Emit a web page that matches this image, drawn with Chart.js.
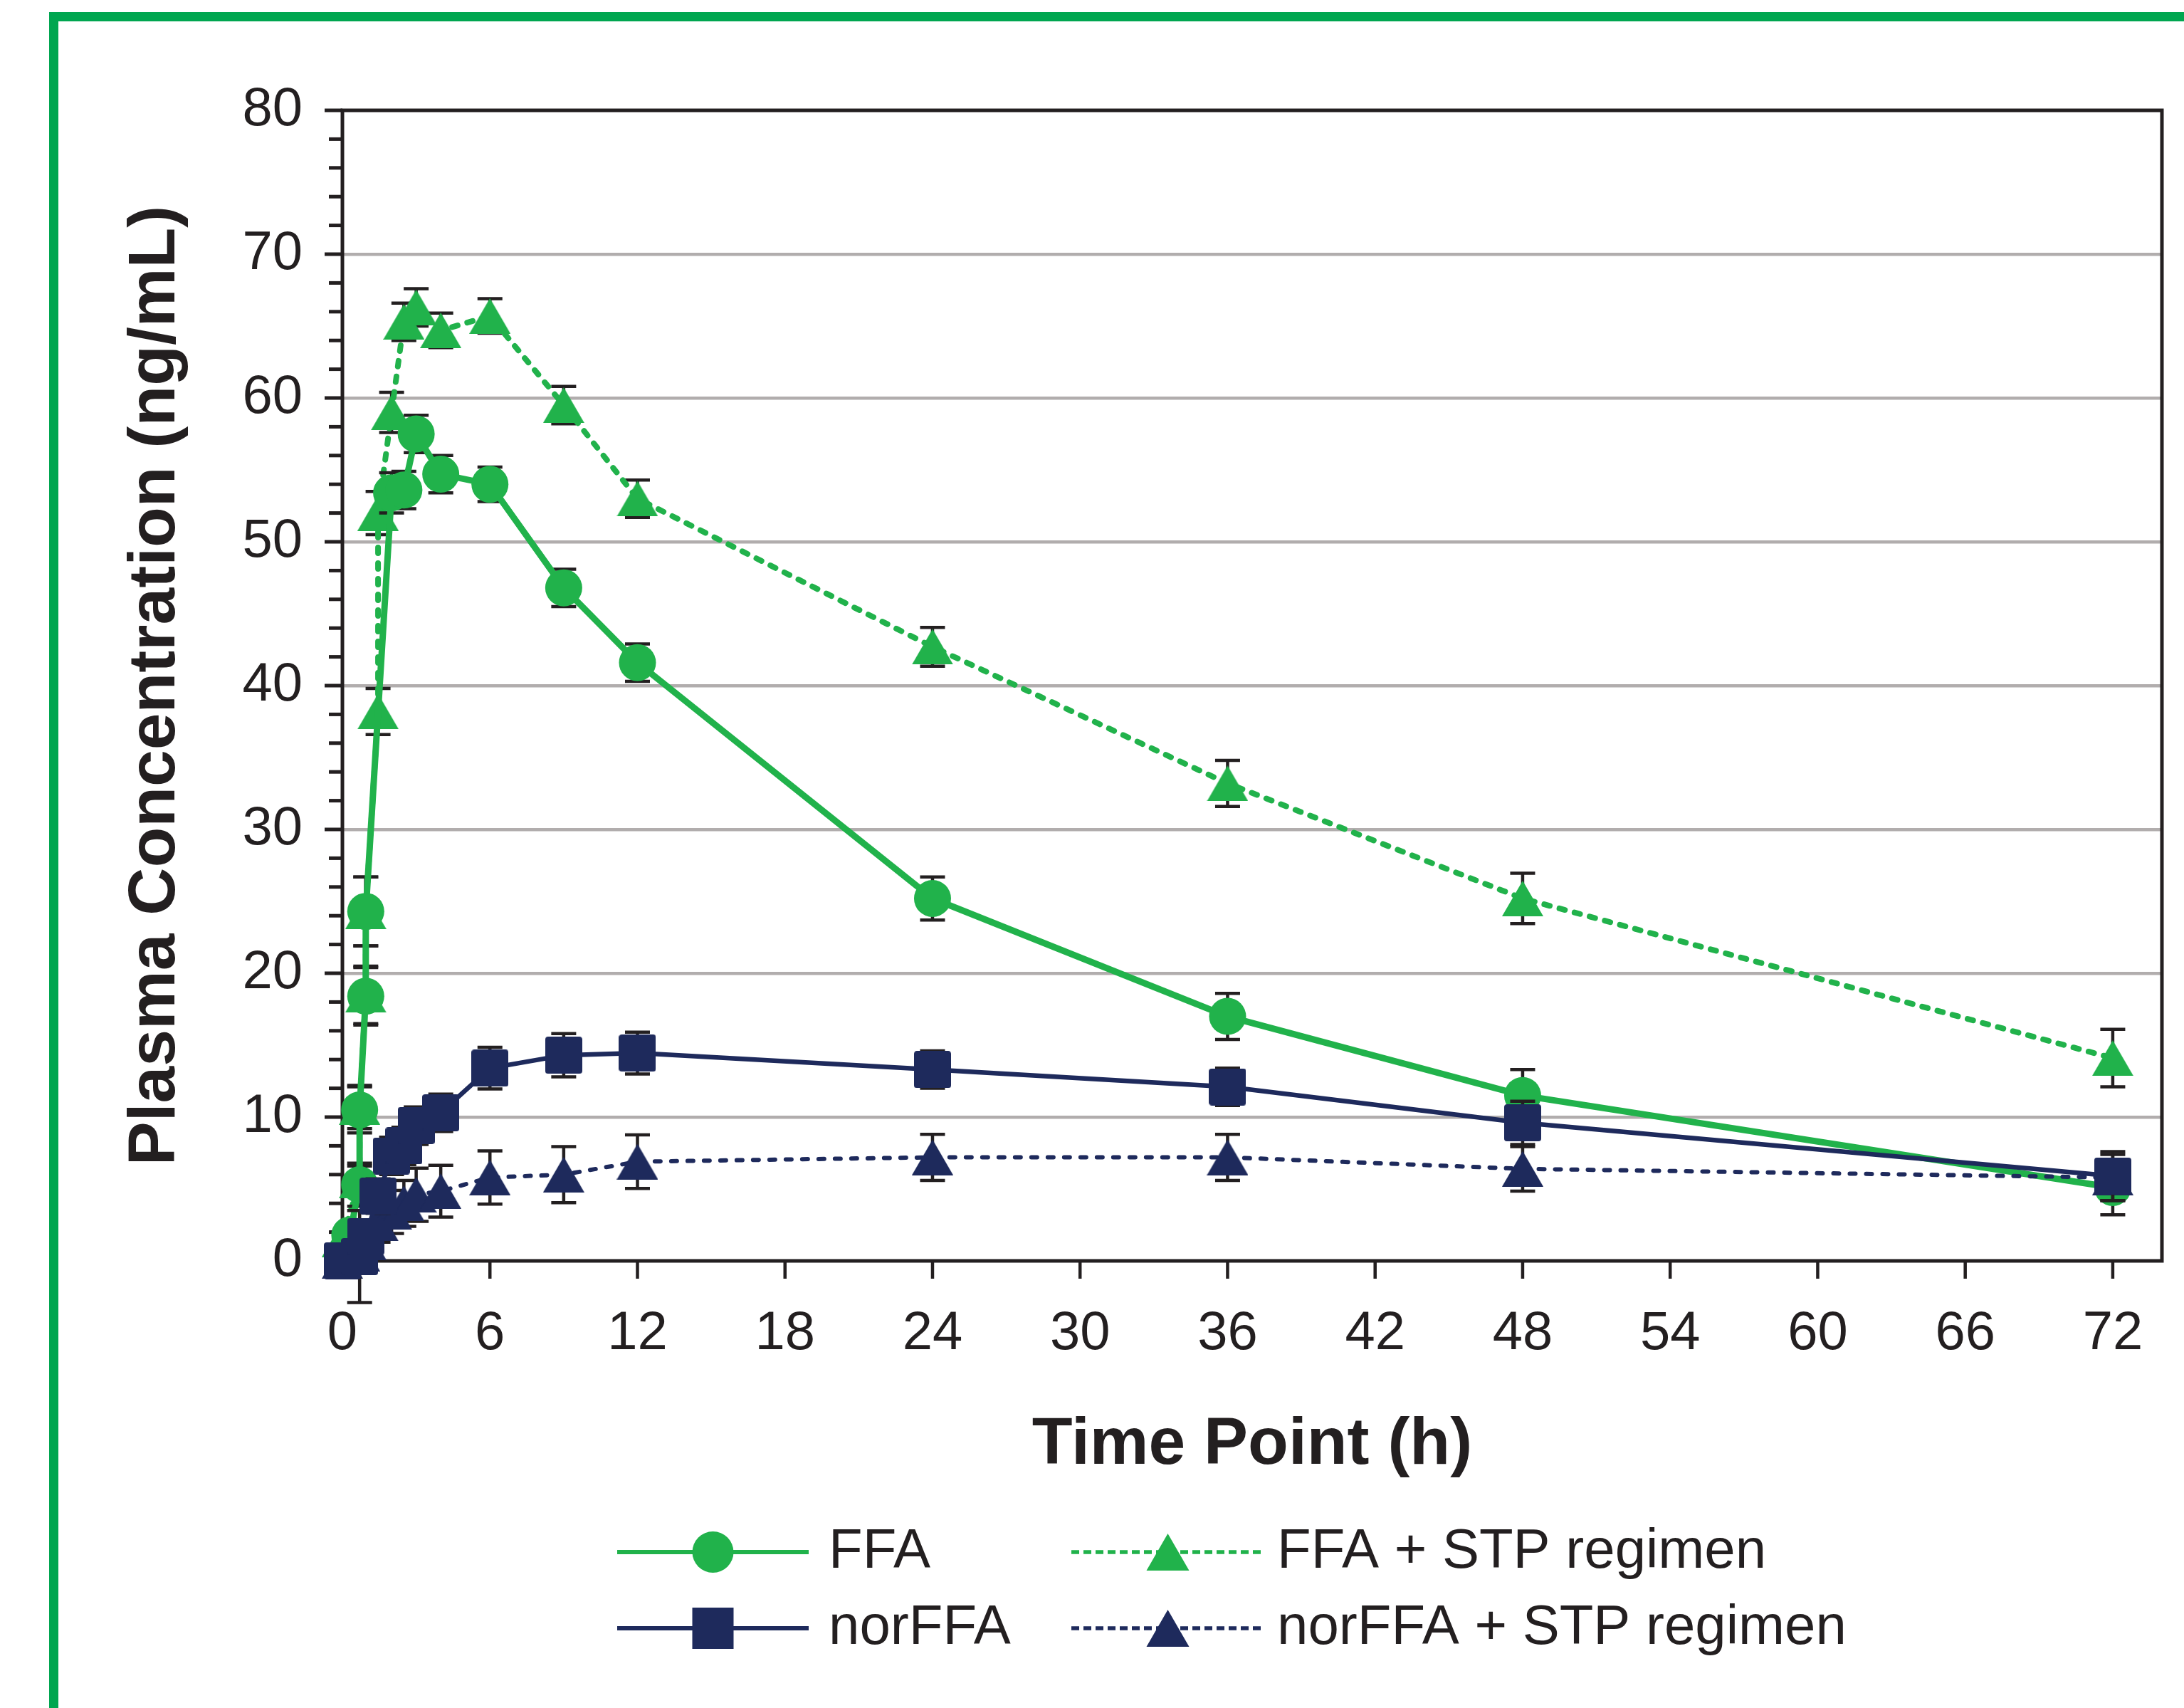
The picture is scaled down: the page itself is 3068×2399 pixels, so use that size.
<!DOCTYPE html>
<html>
<head>
<meta charset="utf-8">
<script src="https://cdn.jsdelivr.net/npm/chart.js@4.4.0/dist/chart.umd.min.js"></script>
<style>
  html, body { margin: 0; padding: 0; background: #fff; }
  canvas { display: block; }
</style>
</head>
<body>
<canvas id="pkChart" width="3068" height="2399"></canvas>
<script>
// time points (h), values (ng/mL) and SD
const ffaTime = [0, 0.3, 0.7, 0.7, 0.95, 0.95, 2, 2.5, 3, 4, 6, 9, 12, 24, 36, 48, 72];
const ffaMean = [0, 1.8, 5.3, 10.5, 18.4, 24.3, 53.4, 53.6, 57.5, 54.7, 54.0, 46.8, 41.6, 25.2, 17.0, 11.5, 5.1];
const ffaSd   = [0, 0.8, 1.5, 1.6, 2.0, 2.4, 1.4, 1.3, 1.3, 1.3, 1.2, 1.3, 1.3, 1.5, 1.6, 1.8, 1.9];

const ffaStpTime = [0, 0.7, 0.7, 0.95, 0.95, 1.45, 1.45, 2, 2.5, 3, 4, 6, 9, 12, 24, 36, 48, 72];
const ffaStpMean = [1.5, 5.6, 10.7, 18.5, 24.3, 38.2, 52.0, 59.0, 65.3, 66.3, 64.7, 65.7, 59.5, 53.0, 42.7, 33.2, 25.2, 14.1];
const ffaStpSd   = [0.5, 1.0, 1.5, 2.0, 2.4, 1.6, 1.5, 1.4, 1.3, 1.3, 1.2, 1.2, 1.3, 1.3, 1.35, 1.6, 1.75, 2.0];

const norTime = [0, 0.7, 0.95, 1.45, 2, 2.5, 3, 4, 6, 9, 12, 24, 36, 48, 72];
const norMean = [0, 0.3, 1.7, 4.5, 7.3, 8.0, 9.4, 10.3, 13.4, 14.3, 14.45, 13.3, 12.1, 9.6, 5.9];
const norSd   = [0, 3.2, 1.0, 1.2, 1.3, 1.3, 1.3, 1.3, 1.45, 1.5, 1.45, 1.3, 1.3, 1.5, 1.7];

const norStpTime = [0, 0.7, 0.95, 1.45, 2, 2.5, 3, 4, 6, 9, 12, 24, 36, 48, 72];
const norStpMean = [0, 0.5, 1.3, 2.6, 3.4, 4.0, 4.6, 4.85, 5.8, 6.0, 6.9, 7.2, 7.2, 6.4, 5.8];
const norStpSd   = [0, 0.8, 1.0, 1.3, 1.5, 1.6, 1.85, 1.8, 1.85, 1.95, 1.86, 1.6, 1.6, 1.55, 1.6];

const xTicks = [0, 6, 12, 18, 24, 30, 36, 42, 48, 54, 60, 66, 72];
const yTicks = [0, 10, 20, 30, 40, 50, 60, 70, 80];

const GREEN = '#21B24B';
const NAVY = '#1E2A5C';
const INK = '#231F20';
const FONT = "'Liberation Sans', Arial, Helvetica, sans-serif";

// excel-like markers: triangle centred on its bounding box
function triangleMark(color, w, h) {
  const c = document.createElement('canvas');
  c.width = w; c.height = h;
  const g = c.getContext('2d');
  g.fillStyle = color;
  g.beginPath();
  g.moveTo(w / 2, 0);
  g.lineTo(w, h);
  g.lineTo(0, h);
  g.closePath();
  g.fill();
  return c;
}
function squareMark(color, s) {
  const c = document.createElement('canvas');
  c.width = s; c.height = s;
  const g = c.getContext('2d');
  g.fillStyle = color;
  g.beginPath();
  g.roundRect(0, 0, s, s, 4);
  g.fill();
  return c;
}

const greenTri = triangleMark(GREEN, 58, 50);
const navyTri = triangleMark(NAVY, 58, 50);
const navySq = squareMark(NAVY, 52);

function pts(t, v) {
  return t.map((x, i) => ({ x: x, y: v[i] }));
}

const datasets = [
  {
    label: 'FFA',
    data: pts(ffaTime, ffaMean),
    errors: ffaSd,
    borderColor: GREEN,
    backgroundColor: GREEN,
    borderWidth: 9,
    pointStyle: 'circle',
    pointRadius: 26,
    legendMark: 'circle',
    order: 3
  },
  {
    label: 'FFA + STP regimen',
    data: pts(ffaStpTime, ffaStpMean),
    errors: ffaStpSd,
    borderColor: GREEN,
    backgroundColor: GREEN,
    borderWidth: 8,
    borderDash: [8, 14],
    borderCapStyle: 'round',
    pointStyle: greenTri,
    pointRadius: 30,
    legendMark: 'triangle',
    order: 4
  },
  {
    label: 'norFFA',
    data: pts(norTime, norMean),
    errors: norSd,
    borderColor: NAVY,
    backgroundColor: NAVY,
    borderWidth: 6.5,
    pointStyle: navySq,
    pointRadius: 30,
    legendMark: 'square',
    order: 1
  },
  {
    label: 'norFFA + STP regimen',
    data: pts(norStpTime, norStpMean),
    errors: norStpSd,
    borderColor: NAVY,
    backgroundColor: NAVY,
    borderWidth: 6,
    borderDash: [8, 15],
    borderCapStyle: 'round',
    pointStyle: navyTri,
    pointRadius: 30,
    legendMark: 'triangle',
    order: 2
  }
];
datasets.forEach(d => {
  d.pointBorderWidth = 0;
  d.pointBackgroundColor = d.backgroundColor;
  d.tension = 0;
  d.clip = false;
  d.fill = false;
});

// green page frame, white background
const pageFrame = {
  id: 'pageFrame',
  beforeDraw(chart) {
    const ctx = chart.ctx;
    ctx.save();
    ctx.fillStyle = '#ffffff';
    ctx.fillRect(0, 0, chart.width, chart.height);
    ctx.fillStyle = '#00A650';
    ctx.fillRect(69, 17, chart.width - 69, 13);
    ctx.fillRect(69, 17, 13, chart.height - 17);
    ctx.restore();
  }
};

// plot box and tick marks (major + minor)
const plotFrame = {
  id: 'plotFrame',
  beforeDatasetsDraw(chart) {
    const { ctx, chartArea: a, scales } = chart;
    ctx.save();
    ctx.strokeStyle = INK;
    ctx.lineWidth = 5;
    for (let v = 0; v <= 80; v += 2) {
      const y = scales.y.getPixelForValue(v);
      const len = v % 10 === 0 ? 25 : 19;
      ctx.beginPath();
      ctx.moveTo(a.left - len, y);
      ctx.lineTo(a.left, y);
      ctx.stroke();
    }
    ctx.lineWidth = 4.5;
    xTicks.forEach(t => {
      const x = scales.x.getPixelForValue(t);
      ctx.beginPath();
      ctx.moveTo(x, a.bottom);
      ctx.lineTo(x, a.bottom + 25);
      ctx.stroke();
    });
    ctx.lineWidth = 5;
    ctx.strokeRect(a.left, a.top, a.right - a.left, a.bottom - a.top);
    ctx.restore();
  }
};

// SD error bars, drawn just under each series
const errorBars = {
  id: 'errorBars',
  beforeDatasetDraw(chart, args) {
    const ds = chart.data.datasets[args.index];
    if (!ds.errors) return;
    const { ctx, scales } = chart;
    ctx.save();
    ctx.strokeStyle = INK;
    ctx.lineWidth = 4.5;
    ds.data.forEach((p, i) => {
      const e = ds.errors[i];
      if (!e) return;
      const x = scales.x.getPixelForValue(p.x);
      const y1 = scales.y.getPixelForValue(p.y + e);
      const y2 = scales.y.getPixelForValue(p.y - e);
      ctx.beginPath();
      ctx.moveTo(x, y1); ctx.lineTo(x, y2);
      ctx.moveTo(x - 17.5, y1); ctx.lineTo(x + 17.5, y1);
      ctx.moveTo(x - 17.5, y2); ctx.lineTo(x + 17.5, y2);
      ctx.stroke();
    });
    ctx.restore();
  }
};

// two-column legend with line + marker samples
const sampleLegend = {
  id: 'sampleLegend',
  afterDraw(chart) {
    const ctx = chart.ctx;
    const cols = [{ x0: 867, x1: 1136, tx: 1164 }, { x0: 1505, x1: 1776, tx: 1794 }];
    const rows = [2180, 2287];
    const order = [[0, 0, 0], [1, 1, 0], [2, 0, 1], [3, 1, 1]];
    ctx.save();
    order.forEach(([di, c, r]) => {
      const ds = chart.data.datasets[di];
      const col = cols[c];
      const y = rows[r];
      const mx = (col.x0 + col.x1) / 2;
      ctx.strokeStyle = ds.borderColor;
      ctx.lineWidth = ds.borderDash ? 5.5 : 6;
      ctx.setLineDash(ds.borderDash ? [11, 6] : []);
      ctx.beginPath();
      ctx.moveTo(col.x0, y);
      ctx.lineTo(col.x1, y);
      ctx.stroke();
      ctx.setLineDash([]);
      ctx.fillStyle = ds.backgroundColor;
      ctx.beginPath();
      if (ds.legendMark === 'circle') {
        ctx.arc(mx, y, 29, 0, Math.PI * 2);
      } else if (ds.legendMark === 'square') {
        ctx.rect(mx - 29, y - 29, 58, 58);
      } else {
        ctx.moveTo(mx, y - 26);
        ctx.lineTo(mx + 30, y + 26);
        ctx.lineTo(mx - 30, y + 26);
        ctx.closePath();
      }
      ctx.fill();
      ctx.fillStyle = INK;
      ctx.font = '78px ' + FONT;
      ctx.textBaseline = 'middle';
      ctx.textAlign = 'left';
      ctx.fillText(ds.label, col.tx, y);
    });
    ctx.restore();
  }
};

const config = {
  type: 'line',
  data: { datasets: datasets },
  options: {
    responsive: false,
    animation: false,
    events: [],
    layout: { padding: { top: 155, right: 28, bottom: 313, left: 0 } },
    plugins: {
      legend: { display: false },
      tooltip: { enabled: false }
    },
    scales: {
      x: {
        type: 'linear',
        min: 0,
        max: 74,
        afterFit: s => { s.height = 315; },
        border: { display: false },
        grid: { display: false, drawTicks: false },
        afterBuildTicks: s => { s.ticks = xTicks.map(v => ({ value: v })); },
        ticks: {
          autoSkip: false,
          maxRotation: 0,
          padding: 57,
          color: INK,
          font: { family: FONT, size: 76 }
        },
        title: {
          display: true,
          text: 'Time Point (h)',
          color: INK,
          font: { family: FONT, size: 93, weight: 'bold' },
          padding: { top: 0, bottom: 0 }
        }
      },
      y: {
        min: 0,
        max: 80,
        afterFit: s => { s.width = 481; },
        border: { display: false },
        grid: {
          drawTicks: false,
          lineWidth: 4.5,
          color: c => (c.tick && c.tick.value > 0 && c.tick.value < 80 && yTicks.includes(c.tick.value)) ? '#B1ADAD' : 'rgba(0,0,0,0)'
        },
        afterBuildTicks: s => { s.ticks = yTicks.map(v => ({ value: v })); },
        ticks: {
          autoSkip: false,
          padding: 56,
          color: INK,
          font: { family: FONT, size: 76 }
        },
        title: {
          display: true,
          text: 'Plasma Concentration (ng/mL)',
          color: INK,
          font: { family: FONT, size: 93, weight: 'bold' },
          padding: { top: 164, bottom: 0 }
        }
      }
    }
  },
  plugins: [pageFrame, plotFrame, errorBars, sampleLegend]
};

const pkChart = new Chart(document.getElementById('pkChart'), config);
</script>
</body>
</html>
